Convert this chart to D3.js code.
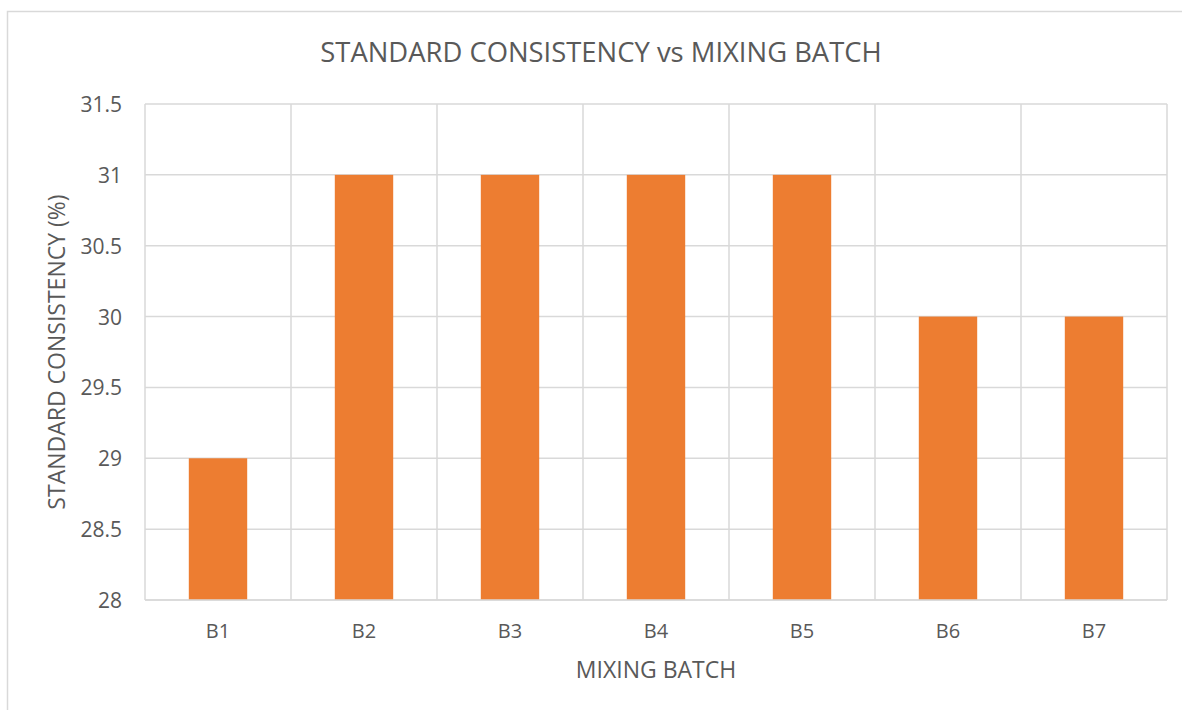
<!DOCTYPE html>
<html>
<head>
<meta charset="utf-8">
<script src="https://cdn.jsdelivr.net/npm/d3@7"></script>
<style>
  html, body { margin: 0; padding: 0; background: #ffffff; }
  svg { display: block; font-family: "Open Sans", sans-serif; }
</style>
</head>
<body>
<svg id="chart" width="1182" height="710"></svg>
<script>
// Standard consistency per mixing batch
const batches = ["B1", "B2", "B3", "B4", "B5", "B6", "B7"];
const consistency = [29, 31, 31, 31, 31, 30, 30];
const yTicks = [28, 28.5, 29, 29.5, 30, 30.5, 31, 31.5];
const yDomain = [28, 31.5];

const chartTitle = "STANDARD CONSISTENCY vs MIXING BATCH";
const xTitle = "MIXING BATCH";
const yTitle = "STANDARD CONSISTENCY (%)";

const W = 1182, H = 710;
const plot = { left: 145, right: 1167, top: 104, bottom: 600 };
const textColor = "#595959";
const gridColor = "#d9d9d9";
const barColor = "#ED7D31";

const svg = d3.select("#chart");

// chart frame (extends past the visible area on the right and bottom)
svg.append("path")
  .attr("d", `M7.5,${H} L7.5,11.5 L${W},11.5`)
  .attr("fill", "none")
  .attr("stroke", gridColor)
  .attr("stroke-width", 1.5);

const x = d3.scaleBand()
  .domain(batches)
  .range([plot.left, plot.right])
  .paddingInner(0.6)
  .paddingOuter(0.3);

const y = d3.scaleLinear()
  .domain(yDomain)
  .range([plot.bottom, plot.top]);

// horizontal gridlines
svg.append("g")
  .selectAll("line")
  .data(yTicks)
  .join("line")
  .attr("x1", plot.left).attr("x2", plot.right)
  .attr("y1", d => y(d)).attr("y2", d => y(d))
  .attr("stroke", gridColor)
  .attr("stroke-width", 1.5);

// vertical category separators
const step = x.step();
const bounds = d3.range(batches.length + 1).map(i => plot.left + i * step);
svg.append("g")
  .selectAll("line")
  .data(bounds)
  .join("line")
  .attr("x1", d => d).attr("x2", d => d)
  .attr("y1", plot.top).attr("y2", plot.bottom)
  .attr("stroke", gridColor)
  .attr("stroke-width", 1.5);

// bars
svg.append("g")
  .selectAll("rect")
  .data(batches)
  .join("rect")
  .attr("x", d => x(d))
  .attr("width", x.bandwidth())
  .attr("y", (d, i) => y(consistency[i]))
  .attr("height", (d, i) => plot.bottom - y(consistency[i]))
  .attr("fill", barColor);

// bottom axis line
svg.append("line")
  .attr("x1", plot.left).attr("x2", plot.right)
  .attr("y1", plot.bottom).attr("y2", plot.bottom)
  .attr("stroke", gridColor)
  .attr("stroke-width", 1.5);

// y axis labels
const yAxis = svg.append("g")
  .attr("transform", `translate(${plot.left},0)`)
  .call(d3.axisLeft(y).tickValues(yTicks).tickSize(0).tickPadding(23).tickFormat(d3.format("")));
yAxis.select(".domain").remove();
yAxis.selectAll("text")
  .attr("fill", textColor)
  .attr("font-size", 21)
  .attr("font-family", "Open Sans")
  .attr("dy", "0.36em");

// x axis labels
const xAxis = svg.append("g")
  .attr("transform", `translate(0,${plot.bottom})`)
  .call(d3.axisBottom(x).tickSize(0));
xAxis.select(".domain").remove();
xAxis.selectAll("text")
  .attr("fill", textColor)
  .attr("font-size", 20)
  .attr("font-family", "Open Sans")
  .attr("y", 38)
  .attr("dy", null);

// titles
svg.append("text")
  .attr("x", 601).attr("y", 62)
  .attr("text-anchor", "middle")
  .attr("fill", textColor)
  .attr("font-size", 27.4)
  .text(chartTitle);

svg.append("text")
  .attr("x", (plot.left + plot.right) / 2).attr("y", 678)
  .attr("text-anchor", "middle")
  .attr("fill", textColor)
  .attr("font-size", 23)
  .text(xTitle);

svg.append("text")
  .attr("transform", `translate(65,${(plot.top + plot.bottom) / 2}) rotate(-90)`)
  .attr("text-anchor", "middle")
  .attr("fill", textColor)
  .attr("font-size", 23)
  .text(yTitle);
</script>
</body>
</html>
